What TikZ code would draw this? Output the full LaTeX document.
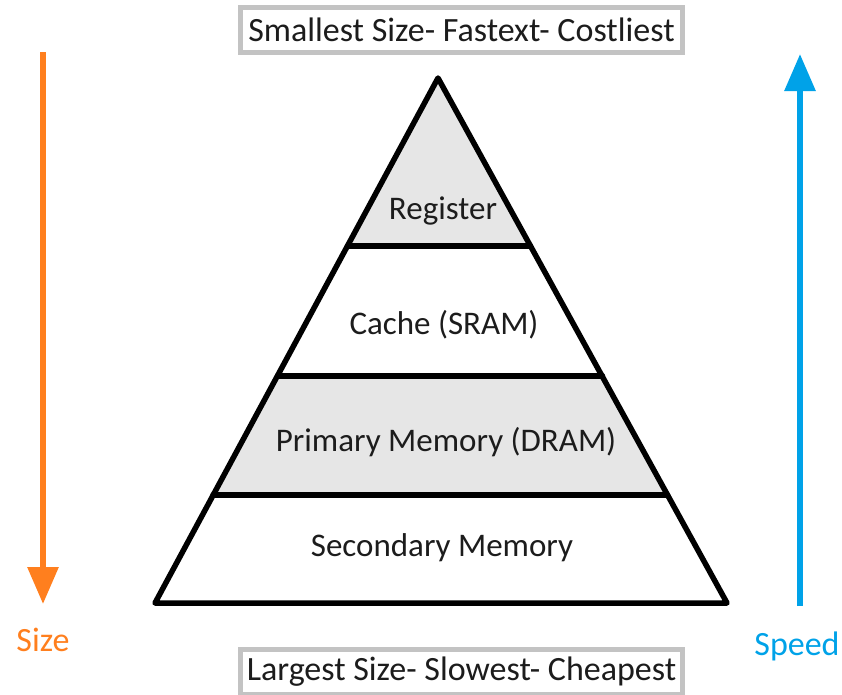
\documentclass[tikz,border=0pt]{standalone}
\usepackage{fontspec}
\setmainfont{Carlito}
\usetikzlibrary{arrows.meta}
\definecolor{bandgray}{HTML}{E6E6E6}
\definecolor{boxgray}{HTML}{C3C3C3}
\definecolor{sizeorange}{HTML}{FF7F1E}
\definecolor{speedblue}{HTML}{00A2E8}
\definecolor{ink}{HTML}{1C1C1C}
\begin{document}
\begin{tikzpicture}[x=1pt,y=-1pt,
  tiertext/.style={font=\fontsize{33}{38}\selectfont, text=ink, inner sep=0pt},
  capbox/.style={draw=boxgray, line width=5.5pt, fill=white, minimum width=442pt,
    minimum height=45pt, font=\fontsize{34}{38}\selectfont, text=ink, inner sep=0pt},
  outline/.style={line width=5.5pt, line join=round, line cap=round},
  scalearrow/.style={line width=6pt, -{Triangle[width=30pt,length=37pt]}}]
\useasboundingbox (0,0) rectangle (842,694);

% pyramid corners and tier boundaries
\coordinate (apex) at (438,78);
\coordinate (r1) at (347.5,246); \coordinate (r2) at (530.5,246);
\coordinate (c1) at (277.5,376); \coordinate (c2) at (602.5,376);
\coordinate (p1) at (213,495);   \coordinate (p2) at (667.5,495);
\coordinate (s1) at (155,603);   \coordinate (s2) at (727,603);

% shaded tiers
\fill[bandgray] (apex) -- (r2) -- (r1) -- cycle;
\fill[bandgray] (c1) -- (c2) -- (p2) -- (p1) -- cycle;

% outline and dividers
\draw[outline] (apex) -- (s2) -- (s1) -- cycle;
\draw[outline] (r1) -- (r2);
\draw[outline] (c1) -- (c2);
\draw[outline] (p1) -- (p2);

% tier labels
\node[tiertext] (reg) at (443,211) {Register};
\node[tiertext] (cache) at (444,325) {Cache (SRAM)};
\node[tiertext] (prim) at (446,442) {Primary Memory (DRAM)};
\node[tiertext] (sec) at (442,548) {Secondary Memory};

% caption boxes
\node[capbox] (top) at (461.5,30) {Smallest Size- Fastext- Costliest};
\node[capbox] (bottom) at (461.5,672) {Largest Size- Slowest- Cheapest};

% size arrow
\coordinate (sizeStart) at (43,52);
\coordinate (sizeEnd) at (43,604);
\draw[scalearrow, sizeorange] (sizeStart) -- (sizeEnd);
\node[tiertext, font=\fontsize{34}{38}\selectfont, text=sizeorange] (size) at (43,640) {Size};

% speed arrow
\coordinate (speedStart) at (800,606);
\coordinate (speedEnd) at (800,54);
\draw[scalearrow, speedblue] (speedStart) -- (speedEnd);
\node[tiertext, font=\fontsize{34}{38}\selectfont, text=speedblue] (speed) at (797,646) {Speed};
\end{tikzpicture}
\end{document}
